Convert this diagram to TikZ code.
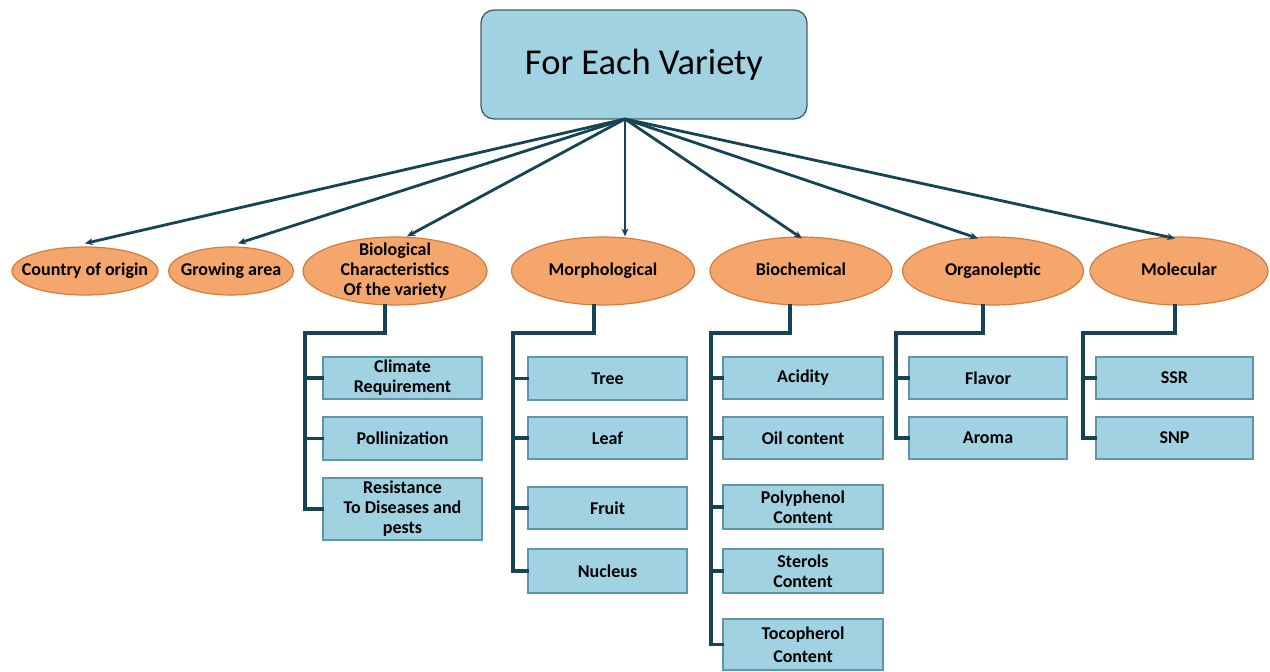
\documentclass[tikz,border=0pt]{standalone}
\usepackage{fontspec}
\setmainfont{Carlito}
\usetikzlibrary{shapes.geometric,arrows.meta,calc}
\definecolor{boxfill}{RGB}{160,210,226}
\definecolor{boxline}{RGB}{96,150,168}
\definecolor{topline}{RGB}{70,95,105}
\definecolor{ovalfill}{RGB}{244,166,108}
\definecolor{ovalline}{RGB}{212,124,62}
\definecolor{conn}{RGB}{22,68,84}
\tikzset{
  oval/.style={ellipse, draw=ovalline, line width=1.2bp, fill=ovalfill, inner sep=0pt},
  ovaltext/.style={inner sep=0pt, align=center, font=\fontsize{18bp}{20bp}\selectfont\bfseries},
  onetext/.style={ovaltext, text height=12.5bp, text depth=3.5bp},
  leafbox/.style={rectangle, draw=boxline, line width=1.5bp, fill=boxfill, inner sep=0pt,
    align=center, font=\fontsize{18bp}{20bp}\selectfont\bfseries},
  topbox/.style={rectangle, rounded corners=13bp, draw=topline, line width=1.3bp, fill=boxfill,
    minimum width=326bp, minimum height=109bp, font=\fontsize{36.5bp}{40bp}\selectfont},
  feed/.style={draw=conn, line width=2.8bp, -{Stealth[length=8bp,width=7bp]}},
  tree/.style={draw=conn, line width=3.6bp, line cap=rect},
}
\begin{document}
\begin{tikzpicture}[x=1bp,y=-1bp]
\useasboundingbox (0,0) rectangle (1270,672);
\fill[white] (0,0) rectangle (1270,672);

% top
\node[topbox] (top) at (644,64.5) {For Each Variety};
\coordinate (hub) at (625,119);

% ovals
\node[oval, minimum width=146bp, minimum height=48bp,
  label={[onetext]center:Country of origin}] (c1) at (85,271) {};
\node[oval, minimum width=125bp, minimum height=48bp,
  label={[onetext]center:Growing area}] (c2) at (231,271) {};
\node[oval, minimum width=184bp, minimum height=68bp,
  label={[ovaltext]center:Biological\\Characteristics\\Of the variety}] (c3) at (395,271) {};
\node[oval, minimum width=183bp, minimum height=68bp,
  label={[onetext]center:Morphological}] (c4) at (603,271) {};
\node[oval, minimum width=182bp, minimum height=68bp,
  label={[onetext]center:Biochemical}] (c5) at (801,271) {};
\node[oval, minimum width=181bp, minimum height=68bp,
  label={[onetext]center:Organoleptic}] (c6) at (993,271) {};
\node[oval, minimum width=178bp, minimum height=68bp,
  label={[onetext]center:Molecular}] (c7) at (1179,271) {};

% arrows
\draw[feed] (hub) -- ($(c1.north)+(0,-3)$);
\draw[feed] (hub) -- ($(c2.north)+(7,-3)$);
\draw[feed] (hub) -- ($(c3.north)+(12,0)$);
\draw[feed] (hub) -- ($(c4.north)+(22,0)$);
\draw[feed] (hub) -- ($(c5.north)+(1,2)$);
\draw[feed] (hub) -- ($(c6.north)+(-15,2)$);
\draw[feed] (hub) -- ($(c7.north)+(-4,2)$);

% Biological column
\node[leafbox, minimum width=159bp, minimum height=42bp] (b31) at (402.5,378) {Climate\\Requirement};
\node[leafbox, minimum width=159bp, minimum height=43bp] (b32) at (402.5,438.5) {\raisebox{-3bp}{Pollinization}};
\node[leafbox, minimum width=159bp, minimum height=62bp] (b33) at (402.5,509) {Resistance\\To Diseases and\\pests};
\coordinate (r3) at (305,333);
\draw[tree] ($(c3.south)+(-10,0)$) |- (r3) |- (b33.west);
\draw[tree] (r3 |- b31.west) -- (b31.west);
\draw[tree] (r3 |- b32.west) -- (b32.west);

% Morphological column
\node[leafbox, minimum width=159bp, minimum height=43bp] (b41) at (607.5,378.5) {Tree};
\node[leafbox, minimum width=159bp, minimum height=42bp] (b42) at (607.5,438) {Leaf};
\node[leafbox, minimum width=159bp, minimum height=42bp] (b43) at (607.5,508) {Fruit};
\node[leafbox, minimum width=159bp, minimum height=44bp] (b44) at (607.5,571) {Nucleus};
\coordinate (r4) at (513,333);
\draw[tree] ($(c4.south)+(-9,0)$) |- (r4) |- (b44.west);
\draw[tree] (r4 |- b41.west) -- (b41.west);
\draw[tree] (r4 |- b42.west) -- (b42.west);
\draw[tree] (r4 |- b43.west) -- (b43.west);

% Biochemical column
\node[leafbox, minimum width=160bp, minimum height=42bp] (b51) at (803,378) {Acidity};
\node[leafbox, minimum width=160bp, minimum height=42bp] (b52) at (803,438) {Oil content};
\node[leafbox, minimum width=160bp, minimum height=44bp] (b53) at (803,507) {Polyphenol\\Content};
\node[leafbox, minimum width=160bp, minimum height=44bp] (b54) at (803,571) {Sterols\\Content};
\node[leafbox, minimum width=160bp, minimum height=51bp] (b55) at (803,644.5) {Tocopherol\\[3bp]Content};
\coordinate (r5) at (711,333);
\draw[tree] ($(c5.south)+(-11,0)$) |- (r5) |- (b55.west);
\draw[tree] (r5 |- b51.west) -- (b51.west);
\draw[tree] (r5 |- b52.west) -- (b52.west);
\draw[tree] (r5 |- b53.west) -- (b53.west);
\draw[tree] (r5 |- b54.west) -- (b54.west);

% Organoleptic column
\node[leafbox, minimum width=158bp, minimum height=42bp] (b61) at (988,378) {Flavor};
\node[leafbox, minimum width=158bp, minimum height=42bp] (b62) at (988,438) {Aroma};
\coordinate (r6) at (896,333);
\draw[tree] ($(c6.south)+(-10,0)$) |- (r6) |- (b62.west);
\draw[tree] (r6 |- b61.west) -- (b61.west);

% Molecular column
\node[leafbox, minimum width=157bp, minimum height=42bp] (b71) at (1174.5,378) {SSR};
\node[leafbox, minimum width=157bp, minimum height=42bp] (b72) at (1174.5,438) {\raisebox{-7bp}{SNP}};
\coordinate (r7) at (1083,333);
\draw[tree] ($(c7.south)+(-4,0)$) |- (r7) |- (b72.west);
\draw[tree] (r7 |- b71.west) -- (b71.west);
\end{tikzpicture}
\end{document}
